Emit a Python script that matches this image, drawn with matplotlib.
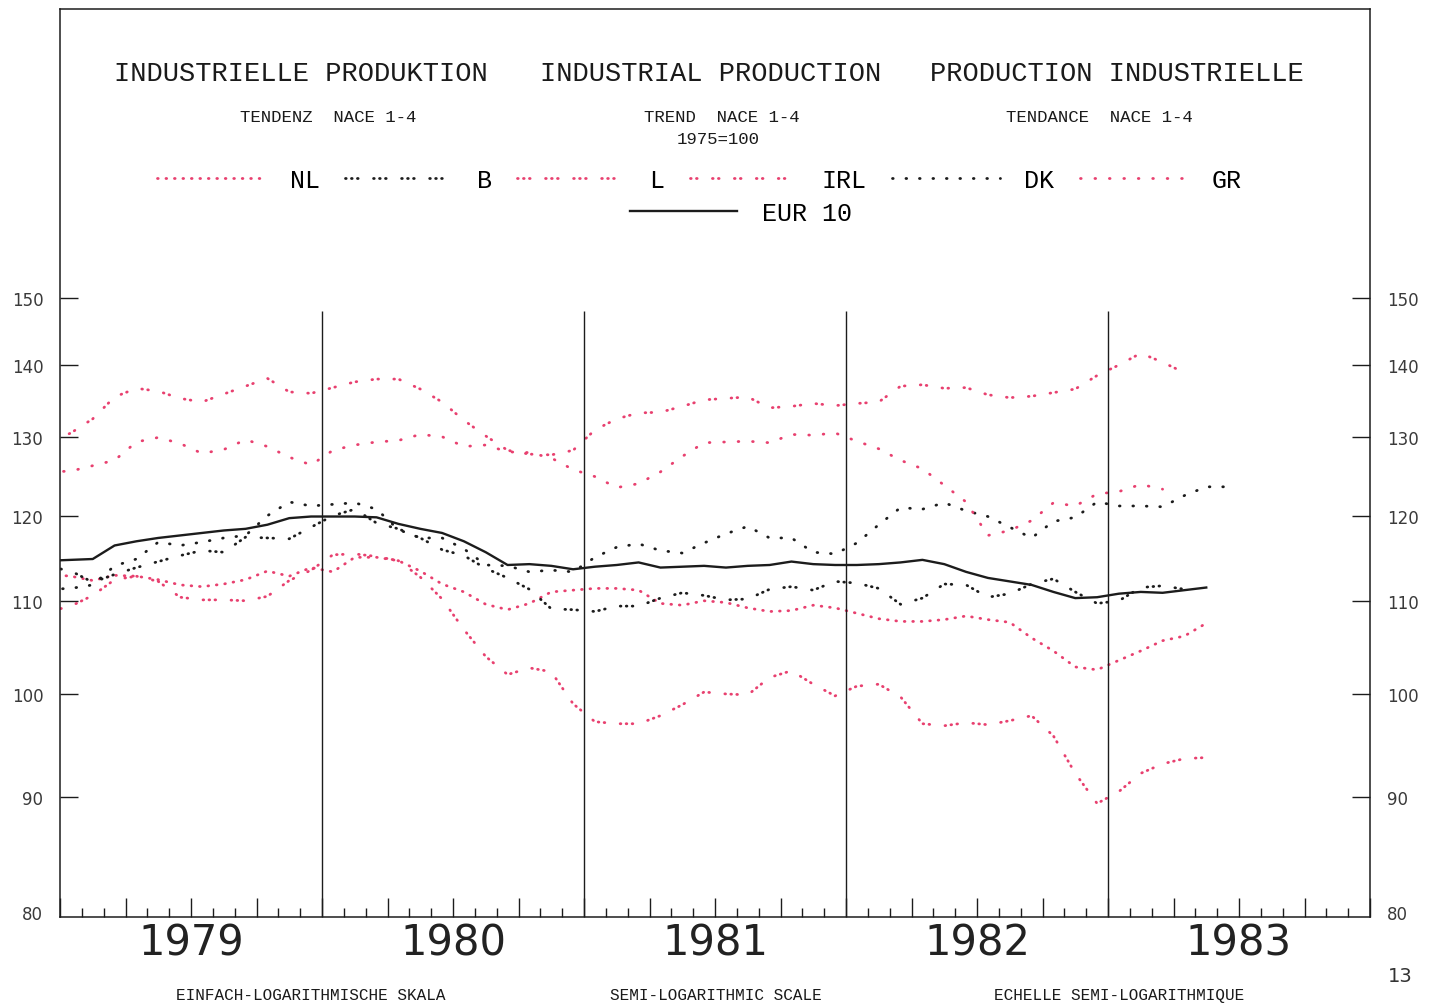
import numpy as np
import matplotlib
matplotlib.use('Agg')
import matplotlib.pyplot as plt
from matplotlib.ticker import FixedLocator, FixedFormatter, NullLocator, MultipleLocator
from matplotlib.transforms import blended_transform_factory

plt.rcParams['lines.scale_dashes'] = False

# monthly trend values, first value = Dec 1978 (clipped at the left edge)
eur10 = [114.6, 114.7, 114.8, 116.4, 116.9, 117.3, 117.6, 117.9, 118.2, 118.4, 118.9, 119.7, 119.9,
         119.9, 119.9, 119.8, 119.0, 118.4, 117.9, 116.9, 115.6, 114.1, 114.2, 114.0, 113.6,
         113.9, 114.1, 114.4, 113.8, 113.9, 114.0, 113.8, 114.0, 114.1, 114.5, 114.2, 114.1,
         114.1, 114.2, 114.4, 114.7, 114.2, 113.3, 112.6, 112.2, 111.8, 111.0, 110.3, 110.4,
         110.8, 111.0, 110.9, 111.2, 111.5]
nl = [113.0, 112.8, 112.3, 112.9, 112.8, 112.4, 111.8, 111.6, 111.9, 112.4, 113.4, 112.8, 113.8,
      113.3, 115.0, 115.0, 114.6, 113.4, 111.9, 111.0, 109.6, 109.0, 109.7, 111.0, 111.2,
      111.4, 111.4, 111.2, 109.7, 109.5, 110.0, 109.8, 109.2, 108.8, 108.9, 109.5, 109.2,
      108.6, 108.0, 107.7, 107.7, 107.9, 108.3, 107.9, 107.6, 105.9, 104.5, 102.8, 102.5,
      103.5, 104.5, 105.6, 106.1, 107.5]
b = [113.9, 113.4, 112.1, 113.0, 113.8, 114.5, 115.2, 115.8, 115.6, 117.4, 117.3, 117.2, 118.6,
     120.0, 120.8, 119.1, 118.4, 117.3, 115.9, 115.2, 113.7, 112.6, 111.3, 109.1, 109.0,
     108.8, 109.4, 109.4, 110.3, 110.9, 110.6, 110.1, 110.2, 111.3, 111.6, 111.2, 112.2,
     112.0, 111.4, 109.6, 110.3, 111.9, 111.8, 110.4, 110.8, 111.9, 112.5, 111.0, 109.7,
     110.0, 111.5, 111.7, 111.3]
lux = [108.8, 109.4, 110.6, 112.4, 112.8, 112.2, 110.4, 110.1, 110.1, 110.0, 110.5, 112.3, 113.5,
       115.3, 115.4, 115.1, 114.6, 112.7, 110.2, 106.8, 103.9, 102.0, 102.7, 102.3, 99.0,
       97.2, 97.0, 97.0, 97.8, 98.9, 100.2, 100.0, 99.9, 101.7, 102.4, 101.0, 99.8,
       100.8, 101.0, 99.7, 97.0, 96.8, 97.1, 96.9, 97.3, 97.8, 95.8, 92.2, 89.4,
       90.5, 92.2, 93.1, 93.6, 93.7]
irl = [129.3, 130.6, 132.5, 135.5, 136.7, 136.3, 135.3, 134.8, 135.9, 137.0, 138.1, 136.2, 136.0,
       136.8, 137.6, 138.0, 138.0, 136.6, 134.8, 132.3, 130.2, 128.3, 127.8, 127.7, 128.3,
       131.0, 132.5, 133.3, 133.4, 134.2, 135.1, 135.3, 135.5, 134.0, 134.2, 134.6, 134.3,
       134.6, 134.8, 137.0, 137.2, 136.7, 136.8, 135.8, 135.4, 135.6, 136.1, 136.6, 138.5,
       140.0, 141.7, 140.4, 138.9]
dk = [111.3, 111.4, 111.8, 114.0, 114.8, 116.8, 116.4, 116.8, 117.3, 117.6, 120.0, 121.7, 121.2,
      121.4, 121.6, 120.8, 118.3, 117.3, 117.3, 116.0, 114.1, 114.0, 113.3, 113.5, 113.3,
      115.0, 116.2, 116.6, 115.8, 115.5, 116.7, 117.8, 118.7, 117.3, 117.3, 115.6, 115.4,
      116.7, 118.9, 121.0, 120.8, 121.6, 120.6, 119.9, 118.6, 117.3, 119.3, 119.8, 121.7,
      121.2, 121.2, 121.1, 122.5, 123.6, 123.6]
gr = [125.5, 125.6, 126.3, 127.0, 129.4, 130.0, 129.2, 127.9, 128.4, 129.7, 128.8, 127.4, 126.4,
      128.3, 129.0, 129.4, 129.6, 130.4, 130.1, 128.8, 129.0, 128.1, 128.0, 127.3, 125.8,
      124.9, 123.5, 124.0, 125.5, 127.5, 129.3, 129.4, 129.5, 129.3, 130.4, 130.3, 130.6,
      129.5, 128.5, 127.0, 125.9, 123.8, 121.7, 117.6, 118.2, 119.4, 121.6, 121.2, 122.7,
      123.0, 123.9, 123.3]

names = ['NL', 'B', 'L', 'IRL', 'DK', 'GR']
values = [nl, b, lux, irl, dk, gr]

years = ['1979', '1980', '1981', '1982', '1983']
yticks = [80, 90, 100, 110, 120, 130, 140, 150]

pink = '#e8406f'
black = '#1c1c1c'
# plotter style dot patterns (points)
styles = {
    'NL': (pink, (0, (0.5, 5.6))),
    'B': (black, (0, (0.5, 3.8, 0.5, 3.8, 0.5, 11.1))),
    'L': (pink, (0, (0.5, 3.8, 0.5, 3.8, 0.5, 11.1))),
    'IRL': (pink, (0, (0.5, 3.8, 0.5, 11.0))),
    'DK': (black, (0, (0.5, 9.2))),
    'GR': (pink, (0, (0.5, 9.9))),
}

W, H = 1439, 1004
fig = plt.figure(figsize=(W / 100, H / 100), dpi=100)
fig.patch.set_facecolor('white')
ax = fig.add_axes([60 / W, 1 - 918 / H, 1310 / W, 908 / H])
ax.set_yscale('log')

handles = []
for name, vals in zip(names, values):
    col, ls = styles[name]
    x = np.arange(len(vals)) - 0.5
    ln, = ax.plot(x, vals, color=col, linestyle=ls, lw=2.0,
                  dash_capstyle='round', solid_capstyle='round')
    handles.append(ln)

x = np.arange(len(eur10)) - 0.5
eur_line, = ax.plot(x, eur10, color=black, lw=1.7, zorder=5)

ax.set_xlim(0, 60)
ax.set_ylim(79.6, 201.5)

# year separators
ax.vlines([12, 24, 36, 48], 79.6, 147.9, colors=black, lw=1.0)

ax.xaxis.set_major_locator(MultipleLocator(3))
ax.xaxis.set_minor_locator(MultipleLocator(1))
ax.tick_params(axis='x', which='major', direction='in', length=13.5, width=1.0,
               labelbottom=False, top=False, color=black)
ax.tick_params(axis='x', which='minor', direction='in', length=6.5, width=1.0,
               top=False, color=black)

ax.yaxis.set_major_locator(FixedLocator(yticks))
ax.yaxis.set_major_formatter(FixedFormatter([str(v) for v in yticks]))
ax.yaxis.set_minor_locator(NullLocator())
ax.tick_params(axis='y', which='major', direction='in', length=13, width=1.0,
               left=True, right=True, labelleft=True, labelright=True, pad=12,
               labelsize=12, labelcolor='#3a3a3a', color=black)
# the 80 level sits on the bottom axis: label only, no tick mark
t80 = ax.yaxis.get_major_ticks()[0]
t80.tick1line.set_visible(False)
t80.tick2line.set_visible(False)

for sp in ax.spines.values():
    sp.set_linewidth(1.1)
    sp.set_color(black)

# year labels under each year
trans = blended_transform_factory(ax.transData, ax.transAxes)
for i, yr in enumerate(years):
    ax.text(12 * i + 6, -0.0286, yr, transform=trans, ha='center', va='center',
            fontsize=30, family='DejaVu Sans', color='#222222')

# legends
mono = {'family': 'Liberation Mono', 'size': 18}
leg1 = ax.legend(handles=handles, labels=names, ncol=6, loc='center',
                 bbox_to_anchor=(699.5 / W, 1 - 181 / H), bbox_transform=fig.transFigure,
                 frameon=False, handlelength=4.3, handletextpad=1.0, columnspacing=1.0,
                 prop=mono, borderpad=0, borderaxespad=0)
ax.add_artist(leg1)
ax.legend(handles=[eur_line], labels=['EUR 10'], loc='center',
          bbox_to_anchor=(741 / W, 1 - 214 / H), bbox_transform=fig.transFigure,
          frameon=False, handlelength=4.3, handletextpad=1.0, prop=mono,
          borderpad=0, borderaxespad=0)

# titles
def ftext(px, py, s, size, **kw):
    fig.text(px / W, 1 - py / H, s, ha='center', va='center', fontsize=size,
             family='Liberation Mono', color='#1a1a1a', **kw)

ftext(301, 74, 'INDUSTRIELLE PRODUKTION', 19.5)
ftext(711, 74, 'INDUSTRIAL PRODUCTION', 19.5)
ftext(1117, 74, 'PRODUCTION INDUSTRIELLE', 19.5)
ftext(328, 118, 'TENDENZ  NACE 1-4', 12.5)
ftext(722, 118, 'TREND  NACE 1-4', 12.5)
ftext(718, 140, '1975=100', 12.5)
ftext(1099, 118, 'TENDANCE  NACE 1-4', 12.5)

ftext(311, 996, 'EINFACH-LOGARITHMISCHE SKALA', 11.5)
ftext(716, 996, 'SEMI-LOGARITHMIC SCALE', 11.5)
ftext(1119, 996, 'ECHELLE SEMI-LOGARITHMIQUE', 11.5)

fig.text(1400 / W, 1 - 977 / H, '13', ha='center', va='center', fontsize=14, color='#333333')

fig.savefig('out.png', dpi=100, facecolor='white')
